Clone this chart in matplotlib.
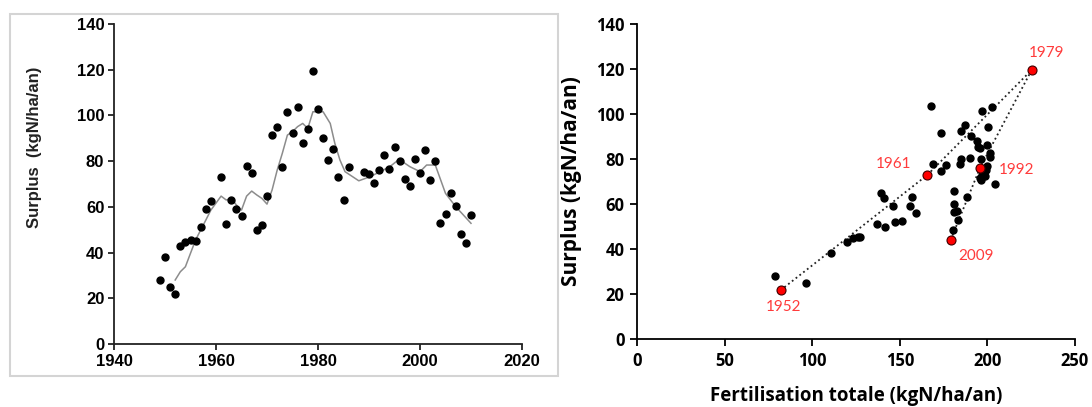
import matplotlib
matplotlib.use("Agg")
import matplotlib.pyplot as plt
from matplotlib.patches import Rectangle

# annual nitrogen surplus (kgN/ha/an)
years = [1949, 1950, 1951, 1952, 1953, 1954, 1955, 1956, 1957, 1958, 1959,
         1961, 1962, 1963, 1964, 1965, 1966, 1967, 1968, 1969, 1970,
         1971, 1972, 1973, 1974, 1975, 1976, 1977, 1978, 1979, 1980,
         1981, 1982, 1983, 1984, 1985, 1986, 1989, 1990,
         1991, 1992, 1993, 1994, 1995, 1996, 1997, 1998, 1999, 2000,
         2001, 2002, 2003, 2004, 2005, 2006, 2007, 2008, 2009, 2010]
surplus = [28.0, 38.2, 24.8, 21.7, 43.0, 44.8, 45.5, 45.2, 51.2, 59.0, 62.7,
           72.9, 52.6, 63.0, 59.1, 56.1, 77.9, 74.8, 49.9, 51.9, 64.9,
           91.6, 94.9, 77.4, 101.5, 92.4, 103.7, 87.9, 94.2, 119.6, 102.9,
           90.1, 80.6, 85.4, 72.9, 63.0, 77.6, 75.2, 74.2,
           70.6, 76.1, 82.8, 76.7, 86.2, 80.2, 72.3, 69.1, 80.9, 74.8,
           84.7, 71.6, 80.0, 52.9, 57.0, 66.0, 60.2, 48.3, 44.2, 56.6]
# total fertilisation (kgN/ha/an), same years
fertil = [78.8, 110.5, 96.5, 82.0, 120.0, 123.5, 126.0, 127.5, 137.2, 146.0, 141.0,
          165.7, 151.0, 156.8, 155.8, 159.0, 169.1, 173.5, 141.6, 147.0, 139.1,
          173.3, 187.0, 176.2, 197.1, 185.0, 167.6, 194.0, 200.5, 225.3, 202.6,
          190.4, 190.1, 194.5, 197.0, 188.6, 184.5, 199.0, 198.0,
          196.5, 195.8, 201.6, 200.0, 200.0, 196.5, 198.5, 204.4, 201.2, 197.5,
          196.0, 195.5, 185.0, 183.4, 182.5, 181.1, 181.1, 180.2, 179.1, 180.7]

# smoothed curve
ma_years = [1952, 1953, 1954, 1955, 1956, 1957, 1958, 1959, 1961, 1962, 1963,
            1964, 1965, 1966, 1967, 1968, 1969, 1970, 1971, 1972, 1973, 1974,
            1975, 1976, 1977, 1978, 1979, 1981, 1982.4, 1983.3, 1984.3, 1985.3,
            1988, 1990.2, 1992.2, 1994.1, 1995.9, 1998, 2000, 2001.3, 2003,
            2005, 2007, 2010]
ma_vals = [28.0, 31.6, 33.8, 39.7, 45.5, 49.9, 54.2, 58.6, 64.7, 63.0, 63.7,
           60.8, 58.6, 64.7, 66.9, 65.2, 63.7, 61.2, 67.4, 76.1, 83.4, 91.4,
           92.9, 95.1, 96.5, 94.3, 101.6, 101.6, 96.5, 87.8, 80.5, 75.4,
           71.4, 73.2, 75.4, 77.6, 80.8, 77.6, 75.4, 78.3, 78.3,
           65.9, 60.1, 52.8]

# highlighted years on the right chart, in path order
key_years = [1952, 1961, 1979, 1992, 2009]
key_offsets = [(3, -17), (-34, 11), (15, 17), (36, -2), (25, -16)]

W, H = 1092, 407
fig = plt.figure(figsize=(W / 100, H / 100), dpi=100)

tick_font = dict(family="Liberation Sans", weight="bold", size=12)

# ---- left chart ----
fig.patches.append(Rectangle((10 / W, 1 - 376 / H), 548 / W, 362 / H,
                             transform=fig.transFigure, fill=False,
                             edgecolor="#d4d4d4", lw=1.5))
ax1 = fig.add_axes([114 / W, 1 - 344 / H, 408 / W, 320 / H])
ax1.plot(ma_years, ma_vals, color="#8c8c8c", lw=1.1, zorder=2)
ax1.plot(years, surplus, "o", color="black", ms=5, zorder=3)
ax1.set_xlim(1940, 2020)
ax1.set_ylim(0, 140)
ax1.set_xticks(range(1940, 2021, 20))
ax1.set_yticks(range(0, 141, 20))
for s in ["top", "right"]:
    ax1.spines[s].set_visible(False)
for s in ["left", "bottom"]:
    ax1.spines[s].set_linewidth(1.3)
    ax1.spines[s].set_color("#222222")
ax1.tick_params(direction="out", length=4, width=1.3, color="#222222", pad=3)
for lab in ax1.get_xticklabels() + ax1.get_yticklabels():
    lab.set_fontproperties(tick_font)
ax1.text(35 / W, 1 - 147 / H, "Surplus  (kgN/ha/an)", transform=fig.transFigure,
         rotation=90, ha="center", va="center", family="Liberation Sans",
         weight="bold", size=12, color="#222222")

# ---- right chart ----
ax2 = fig.add_axes([637 / W, 1 - 339 / H, 438 / W, 315 / H])
kx = [fertil[years.index(y)] for y in key_years]
ky = [surplus[years.index(y)] for y in key_years]
ax2.plot(kx, ky, ":", color="#222222", lw=1.3, zorder=1)
ax2.plot(fertil, surplus, "o", color="black", ms=5, zorder=2)
ax2.plot(kx, ky, "o", color="#ff0000", mec="#400000", mew=0.8, ms=6.5, zorder=3)
for y, xv, yv, off in zip(key_years, kx, ky, key_offsets):
    ax2.annotate(str(y), (xv, yv), xytext=(off[0] * 0.72, off[1] * 0.72),
                 textcoords="offset points", ha="center", va="center",
                 color="#ff3b3b", family="Lato", size=11)
ax2.set_xlim(0, 250)
ax2.set_ylim(0, 140)
ax2.set_xticks(range(0, 251, 50))
ax2.set_yticks(range(0, 141, 20))
for s in ["top", "right"]:
    ax2.spines[s].set_visible(False)
for s in ["left", "bottom"]:
    ax2.spines[s].set_linewidth(1.3)
ax2.tick_params(direction="out", length=5, width=1.3, pad=4)
rfont = dict(family="Open Sans", weight="bold", size=12)
for lab in ax2.get_xticklabels() + ax2.get_yticklabels():
    lab.set_fontproperties(rfont)
ax2.set_xlabel("Fertilisation totale (kgN/ha/an)", family="Open Sans",
               weight="bold", size=13.5, labelpad=12)
ax2.set_ylabel("Surplus (kgN/ha/an)", family="Open Sans", weight="bold",
               size=15, labelpad=10)

fig.savefig("out.png", dpi=100)
